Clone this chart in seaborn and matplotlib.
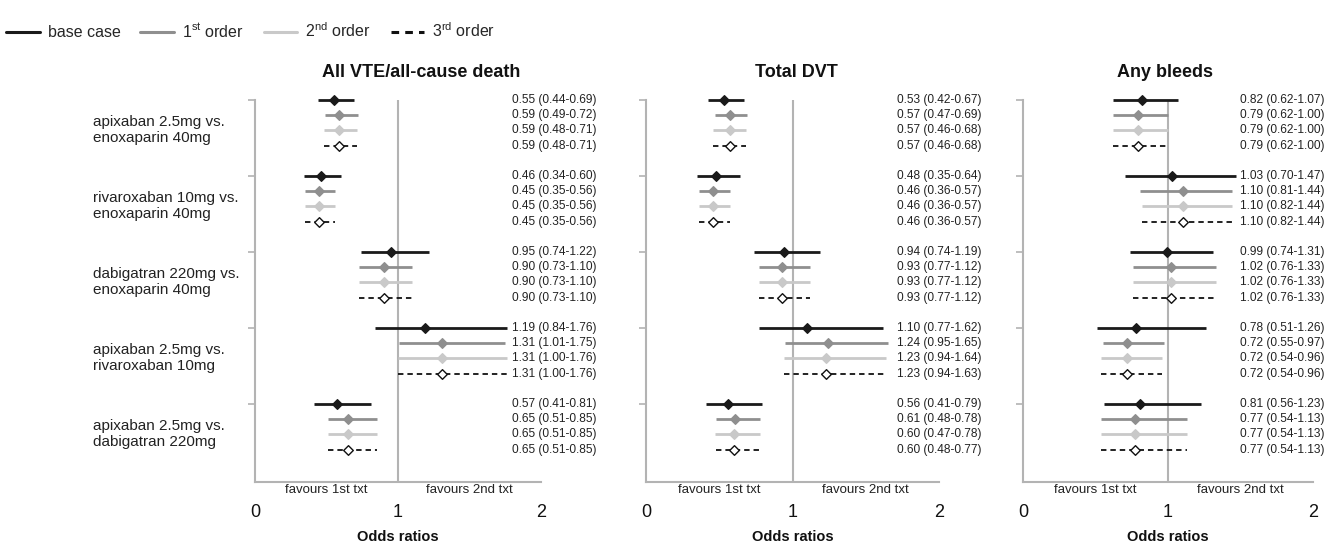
import numpy as np
import pandas as pd
import matplotlib
matplotlib.use("Agg")
import matplotlib.pyplot as plt
import seaborn as sns
from matplotlib.lines import Line2D
from matplotlib.transforms import blended_transform_factory

# ---------------- data ----------------
comparisons = [
    "apixaban 2.5mg vs.\nenoxaparin 40mg",
    "rivaroxaban 10mg vs.\nenoxaparin 40mg",
    "dabigatran 220mg vs.\nenoxaparin 40mg",
    "apixaban 2.5mg vs.\nrivaroxaban 10mg",
    "apixaban 2.5mg vs.\ndabigatran 220mg",
]
series = ["base case", "1st order", "2nd order", "3rd order"]
legend_labels = ["base case", r"1$^{\mathrm{st}}$ order",
                 r"2$^{\mathrm{nd}}$ order", r"3$^{\mathrm{rd}}$ order"]
titles = ["All VTE/all-cause death", "Total DVT", "Any bleeds"]
x_ticks = [0, 1, 2]
favours = ["favours 1st txt", "favours 2nd txt"]

# rows: comparison, columns: base, 1st, 2nd, 3rd
vte_or = [[0.55, 0.59, 0.59, 0.59], [0.46, 0.45, 0.45, 0.45], [0.95, 0.90, 0.90, 0.90],
          [1.19, 1.31, 1.31, 1.31], [0.57, 0.65, 0.65, 0.65]]
vte_lo = [[0.44, 0.49, 0.48, 0.48], [0.34, 0.35, 0.35, 0.35], [0.74, 0.73, 0.73, 0.73],
          [0.84, 1.01, 1.00, 1.00], [0.41, 0.51, 0.51, 0.51]]
vte_hi = [[0.69, 0.72, 0.71, 0.71], [0.60, 0.56, 0.56, 0.56], [1.22, 1.10, 1.10, 1.10],
          [1.76, 1.75, 1.76, 1.76], [0.81, 0.85, 0.85, 0.85]]

dvt_or = [[0.53, 0.57, 0.57, 0.57], [0.48, 0.46, 0.46, 0.46], [0.94, 0.93, 0.93, 0.93],
          [1.10, 1.24, 1.23, 1.23], [0.56, 0.61, 0.60, 0.60]]
dvt_lo = [[0.42, 0.47, 0.46, 0.46], [0.35, 0.36, 0.36, 0.36], [0.74, 0.77, 0.77, 0.77],
          [0.77, 0.95, 0.94, 0.94], [0.41, 0.48, 0.47, 0.48]]
dvt_hi = [[0.67, 0.69, 0.68, 0.68], [0.64, 0.57, 0.57, 0.57], [1.19, 1.12, 1.12, 1.12],
          [1.62, 1.65, 1.64, 1.63], [0.79, 0.78, 0.78, 0.77]]

bleed_or = [[0.82, 0.79, 0.79, 0.79], [1.03, 1.10, 1.10, 1.10], [0.99, 1.02, 1.02, 1.02],
            [0.78, 0.72, 0.72, 0.72], [0.81, 0.77, 0.77, 0.77]]
bleed_lo = [[0.62, 0.62, 0.62, 0.62], [0.70, 0.81, 0.82, 0.82], [0.74, 0.76, 0.76, 0.76],
            [0.51, 0.55, 0.54, 0.54], [0.56, 0.54, 0.54, 0.54]]
bleed_hi = [[1.07, 1.00, 1.00, 1.00], [1.47, 1.44, 1.44, 1.44], [1.31, 1.33, 1.33, 1.33],
            [1.26, 0.97, 0.96, 0.96], [1.23, 1.13, 1.13, 1.13]]

panels = [(vte_or, vte_lo, vte_hi), (dvt_or, dvt_lo, dvt_hi), (bleed_or, bleed_lo, bleed_hi)]

# ---------------- styles / layout ----------------
styles = {
    "base case": dict(color="#1a1a1a", lw=2.0, ls="-", face="#1a1a1a", edge="#1a1a1a"),
    "1st order": dict(color="#8f8f8f", lw=2.0, ls="-", face="#8f8f8f", edge="#8f8f8f"),
    "2nd order": dict(color="#c9c9c9", lw=2.0, ls="-", face="#c9c9c9", edge="#c9c9c9"),
    "3rd order": dict(color="#111111", lw=1.3, ls=(0, (3, 2.2)), face="white", edge="#111111"),
}
W, H = 1339, 552
axes_px = [(255, 541), (646, 939), (1023, 1313)]
top_px, bot_px = 100, 482
row_px = 15.2
group_step = 5
label_x = [1.80, 1.71, 1.50]
title_x = [1.16, 1.03, 0.98]
axis_grey = "#b3b3b3"
text_col = "#222222"

sns.set_theme(style="white")
plt.rcParams["font.family"] = ["Liberation Sans", "DejaVu Sans"]
plt.rcParams["mathtext.fontset"] = "custom"
plt.rcParams["mathtext.rm"] = "Liberation Sans"
plt.rcParams["mathtext.it"] = "Liberation Sans:italic"
plt.rcParams["mathtext.bf"] = "Liberation Sans:bold"

fig = plt.figure(figsize=(W / 100, H / 100), dpi=100)

for p, ((or_v, lo_v, hi_v), (x0, x1)) in enumerate(zip(panels, axes_px)):
    ax = fig.add_axes([x0 / W, 1 - bot_px / H, (x1 - x0) / W, (bot_px - top_px) / H])
    records = []
    for g in range(len(comparisons)):
        for k, s in enumerate(series):
            records.append(dict(comp=g, series=s, y=g * group_step + k,
                                OR=or_v[g][k], lo=lo_v[g][k], hi=hi_v[g][k]))
    df = pd.DataFrame(records)

    ax.axvline(1, color=axis_grey, lw=1.5, zorder=1)

    for s in series:
        st = styles[s]
        d = df[df.series == s]
        ax.hlines(d.y, d.lo, d.hi, colors=st["color"], lw=st["lw"],
                  linestyles=[st["ls"]], zorder=2, clip_on=False)
        sns.scatterplot(data=d, x="OR", y="y", marker="D", s=24, ax=ax,
                        color=st["face"], edgecolor=st["edge"], linewidth=1.0,
                        zorder=3, clip_on=False, legend=False)

    for _, r in df.iterrows():
        ax.text(max(label_x[p], r.hi + 0.03), r.y,
                f"{r.OR:.2f} ({r.lo:.2f}-{r.hi:.2f})",
                fontsize=8.6, color=text_col, va="center", ha="left")

    ax.set_xlim(0, 2)
    ax.set_ylim((bot_px - top_px) / row_px, 0)
    ax.set_xticks(x_ticks)
    ax.set_xticklabels([str(t) for t in x_ticks], fontsize=13, color="#111111")
    ax.set_yticks([g * group_step for g in range(len(comparisons))])
    ax.set_yticklabels([])
    ax.tick_params(axis="x", direction="inout", length=8, width=1.2, color=axis_grey, pad=12)
    ax.tick_params(axis="y", direction="out", length=5, width=1.2, color=axis_grey, left=True)
    for side in ["top", "right"]:
        ax.spines[side].set_visible(False)
    for side in ["left", "bottom"]:
        ax.spines[side].set_color(axis_grey)
        ax.spines[side].set_linewidth(1.5)
    ax.set_xlabel("Odds ratios", fontsize=10.5, fontweight="bold", labelpad=6, color="#111111")
    ax.set_ylabel("")

    trans = blended_transform_factory(ax.transData, ax.transAxes)
    ax.text(0.5, -8 / (bot_px - top_px), favours[0], transform=trans, ha="center",
            va="center", fontsize=9.5, color=text_col)
    ax.text(1.5, -8 / (bot_px - top_px), favours[1], transform=trans, ha="center",
            va="center", fontsize=9.5, color=text_col)
    ax.text(title_x[p], 1 + (top_px - 73) / (bot_px - top_px), titles[p], transform=trans,
            ha="center", va="center", fontsize=13, fontweight="bold", color="#111111")

    if p == 0:
        tl = blended_transform_factory(fig.transFigure, ax.transData)
        for g, c in enumerate(comparisons):
            ax.text(93 / W, g * group_step + 1.95, c, transform=tl, ha="left",
                    va="center", fontsize=11, color=text_col)

handles = [Line2D([0], [0], color=styles[s]["color"], lw=2.2,
                  ls="-" if s != "3rd order" else (0, (2.5, 2.0))) for s in series]
fig.legend(handles, legend_labels, loc="center left", bbox_to_anchor=(6 / W, 1 - 31 / H),
           ncol=4, frameon=False, fontsize=11.5, handlelength=2.1, handletextpad=0.5,
           columnspacing=1.25, borderpad=0, borderaxespad=0)

fig.savefig("out.png", dpi=100)
